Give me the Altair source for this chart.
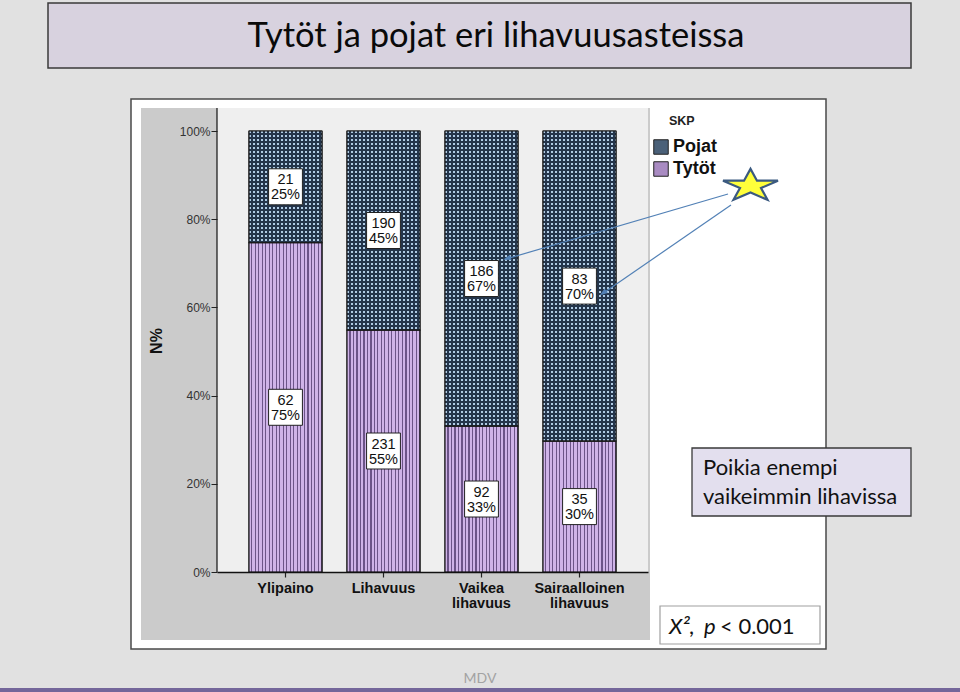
import math
import altair as alt
import pandas as pd

# ---------------- data ----------------
cats = ['Ylipaino', 'Lihavuus', 'Vaikea lihavuus', 'Sairaalloinen lihavuus']
tytot_n = [62, 231, 92, 35]
pojat_n = [21, 190, 186, 83]
tytot_pct = [75, 55, 33, 30]
pojat_pct = [25, 45, 67, 70]
y_ticks = [0, 0.2, 0.4, 0.6, 0.8, 1.0]

rows = []
for i, c in enumerate(cats):
    rows.append({'cat': c, 'sex': 'Tytöt', 'ord': 0, 'n': tytot_n[i], 'pct': tytot_pct[i]})
    rows.append({'cat': c, 'sex': 'Pojat', 'ord': 1, 'n': pojat_n[i], 'pct': pojat_pct[i]})
df = pd.DataFrame(rows)
one = pd.DataFrame({'k': [0]})

# ---------------- layout helpers ----------------
OX, OY = 217, 131          # plot origin on the page
W, H = 431, 441            # plot size
STEP, BAND = 98, 73        # band step / bar width in px


def px(x):
    return x - OX


def py(y):
    return y - OY


FONT = 'Lato'
AX_FONT = 'Liberation Sans'

POJ_AVG = '#4a6078'
TYT_AVG = '#a98bc2'


def stripes(total, period, light_px, light, dark, vertical=True):
    """Hard-edged stripe gradient with a period given in pixels."""
    stops = []
    p = 0.0
    while p < total - 1e-9:
        m = min(p + light_px, total)
        b = min(p + period, total)
        stops += [alt.GradientStop(offset=p / total, color=light),
                  alt.GradientStop(offset=m / total, color=light),
                  alt.GradientStop(offset=m / total, color=dark),
                  alt.GradientStop(offset=b / total, color=dark)]
        p += period
    if vertical:
        return alt.LinearGradient(gradient='linear', stops=stops, x1=0, x2=1, y1=0, y2=0)
    return alt.LinearGradient(gradient='linear', stops=stops, x1=0, x2=0, y1=0, y2=1)


def rect(x1, y1, x2, y2, **kw):
    return alt.Chart(one).mark_rect(**kw).encode(
        x=alt.value(px(x1)), x2=alt.value(px(x2)),
        y=alt.value(py(y1)), y2=alt.value(py(y2)))


def text(x, y, s, **kw):
    return alt.Chart(one).mark_text(**kw).encode(
        x=alt.value(px(x)), y=alt.value(py(y)), text=alt.value(s))


def line(x1, y1, x2, y2, **kw):
    return alt.Chart(one).mark_rule(**kw).encode(
        x=alt.value(px(x1)), x2=alt.value(px(x2)),
        y=alt.value(py(y1)), y2=alt.value(py(y2)))


# ---------------- decorations (slide) ----------------
bg_layers = [
    rect(48, 3, 911, 68, fill='#d8d2df', stroke='#3a3a3a', strokeWidth=1.5),
    text(496, 37, 'Tytöt ja pojat eri lihavuusasteissa', font=FONT, fontSize=34.5,
         color='#0a0a0a', align='center', baseline='middle'),
    rect(131, 99, 826, 649, fill='#ffffff', stroke='#4a4a4a', strokeWidth=1.5),
    rect(141, 108, 650, 640, fill='#cbcbcb'),
    rect(217, 108, 648, 572, fill='#efefef'),
    line(217, 108, 217, 572, color='#111111', strokeWidth=1.2),
    rect(0, 688, 960, 692, fill='#74669a'),
    text(480, 679, 'MDV', font=FONT, fontSize=14, color='#a3a3a3',
         align='center', baseline='middle'),
]

# ---------------- bars ----------------
base = alt.Chart(df).transform_stack(
    stack='n', groupby=['cat'], as_=['y0', 'y1'], offset='normalize',
    sort=[alt.SortField('ord', order='ascending')])

p_in = (STEP - BAND) / STEP
p_out = (W / STEP - len(cats) + p_in) / 2

X_AXIS = alt.Axis(labelAngle=0, labelExpr="split(datum.label, ' ')",
                  labelFont=AX_FONT, labelFontWeight='bold', labelFontSize=14.5,
                  labelColor='#111111', labelLineHeight=15, labelPadding=4,
                  tickSize=5, tickColor='#222222', tickWidth=1.2,
                  domainColor='#111111', domainWidth=1.5, grid=False, zindex=2)
Y_AXIS = alt.Axis(values=y_ticks, format='.0%', tickSize=6, tickColor='#222222',
                  domain=False, grid=False, labelFont=AX_FONT, labelFontSize=12,
                  labelColor='#333333', labelPadding=1, zindex=2)
X_SCALE = alt.Scale(paddingInner=p_in, paddingOuter=p_out)
Y_SCALE = alt.Scale(domain=[0, 1])

x_enc = alt.X('cat:N', sort=cats, title=None, scale=X_SCALE, axis=X_AXIS)


def y_enc(field):
    return alt.Y(field, title=None, scale=Y_SCALE, axis=Y_AXIS)


bars = base.mark_bar(stroke='#1a1a1a', strokeWidth=1).encode(
    x=x_enc, y=y_enc('y0:Q'), y2='y1:Q',
    color=alt.Color('sex:N', scale=alt.Scale(domain=['Pojat', 'Tytöt'], range=[POJ_AVG, TYT_AVG]),
                    legend=alt.Legend(orient='none', legendX=435, legendY=7, title=None,
                                      labelFont=AX_FONT, labelFontSize=18, labelFontWeight='bold',
                                      labelColor='#111111', symbolType='square', symbolSize=210,
                                      symbolStrokeColor='#222222', symbolStrokeWidth=1,
                                      symbolOpacity=1, rowPadding=2, labelOffset=3)))

NAVY = '#24354b'
pojat_str = base.transform_filter('datum.ord == 1').mark_bar(
    fill=stripes(BAND, 4, 2, '#afcbe4', NAVY, vertical=True)).encode(
    x=x_enc, y=y_enc('y0:Q'), y2='y1:Q')

dots = base.transform_aggregate(lo='min(y0)', hi='max(y1)', groupby=['cat']).mark_bar(
    fill=stripes(H, 4, 2, 'rgba(0,0,0,0)', NAVY, vertical=False)).encode(
    x=x_enc, y=y_enc('lo:Q'), y2='hi:Q')

tytot_str = base.transform_filter('datum.ord == 0').mark_bar(
    fill=stripes(BAND, 3.5, 2.25, '#cfb3e8', '#6c5488', vertical=True)).encode(
    x=x_enc, y=y_enc('y0:Q'), y2='y1:Q')

outline = base.mark_bar(fillOpacity=0, stroke='#1a1a1a', strokeWidth=1.2).encode(
    x=x_enc, y=y_enc('y0:Q'), y2='y1:Q')

lab_base = base.transform_calculate(
    mid='(datum.y0 + datum.y1) / 2',
    lab="datum.n + '\\n' + datum.pct + '%'")

boxes = lab_base.mark_point(shape='M-0.94,-1H0.94V1H-0.94Z', size=1296, filled=True,
                            fill='#ffffff', stroke='#222222', strokeWidth=1, opacity=1).encode(
    x=x_enc, y=y_enc('mid:Q'))

labels = lab_base.mark_text(font=AX_FONT, fontSize=14.5, lineBreak='\n', lineHeight=15,
                            color='#111111', align='center', baseline='middle', dy=-6.5).encode(
    x=x_enc, y=y_enc('mid:Q'), text='lab:N')

# ---------------- annotations ----------------
star_pts = []
for k in range(10):
    ang = -math.pi / 2 + k * math.pi / 5
    r = 1.0 if k % 2 == 0 else 0.382
    star_pts.append((r * math.cos(ang) * 1.0515, r * math.sin(ang) * 0.622))
star_path = 'M' + 'L'.join(f'{x:.3f},{y:.3f}' for x, y in star_pts) + 'Z'

ARROW = '#5281b6'
anno = [
    text(669, 121, 'SKP', font=AX_FONT, fontSize=12.5, fontWeight='bold', color='#222222',
         align='left', baseline='middle'),
    text(157, 341, 'N%', font=AX_FONT, fontSize=16, fontWeight='bold', color='#111111',
         align='center', baseline='middle', angle=270),
    line(728, 194, 506, 259, color=ARROW, strokeWidth=1.2),
    line(731, 205, 602, 294, color=ARROW, strokeWidth=1.2),
    alt.Chart(one).mark_point(shape='M0,-1L0.7,1L-0.7,1Z', size=60, filled=True, color=ARROW,
                              opacity=1, angle=253.6).encode(
        x=alt.value(px(507)), y=alt.value(py(258.5))),
    alt.Chart(one).mark_point(shape='M0,-1L0.7,1L-0.7,1Z', size=60, filled=True, color=ARROW,
                              opacity=1, angle=235).encode(
        x=alt.value(px(603)), y=alt.value(py(293))),
    alt.Chart(one).mark_point(shape=star_path, size=3025, filled=True, fill='#ffff3a',
                              stroke='#3b5a80', strokeWidth=2.2, opacity=1).encode(
        x=alt.value(px(750.5)), y=alt.value(py(186))),
    rect(692, 448, 911, 516, fill='#e3dfee', stroke='#3a3a3a', strokeWidth=1.3),
    text(703, 468, 'Poikia enempi', font=FONT, fontSize=22, color='#111111',
         align='left', baseline='middle'),
    text(703, 497, 'vaikeimmin lihavissa', font=FONT, fontSize=22, color='#111111',
         align='left', baseline='middle'),
    rect(660, 606, 820, 644, fill='#ffffff', stroke='#a0a0a0', strokeWidth=1.2),
    text(669, 627, 'X²,', font=FONT, fontSize=22, fontStyle='italic', color='#111111',
         align='left', baseline='middle'),
    text(704, 627, 'p', font=FONT, fontSize=22, fontStyle='italic', color='#111111',
         align='left', baseline='middle'),
    text(720, 627, '< 0.001', font=FONT, fontSize=22, color='#111111',
         align='left', baseline='middle'),
]

chart = alt.layer(
    *bg_layers, bars, pojat_str, dots, tytot_str, outline, boxes, labels, *anno
).properties(
    width=W, height=H,
    padding={'left': OX, 'top': OY, 'right': 960 - OX - W, 'bottom': 692 - OY - H},
    autosize=alt.AutoSizeParams(type='none'),
    background='#e1e1e1',
).configure_view(strokeWidth=0)

chart.save('out.html', embed_options={'renderer': 'svg', 'actions': False})
